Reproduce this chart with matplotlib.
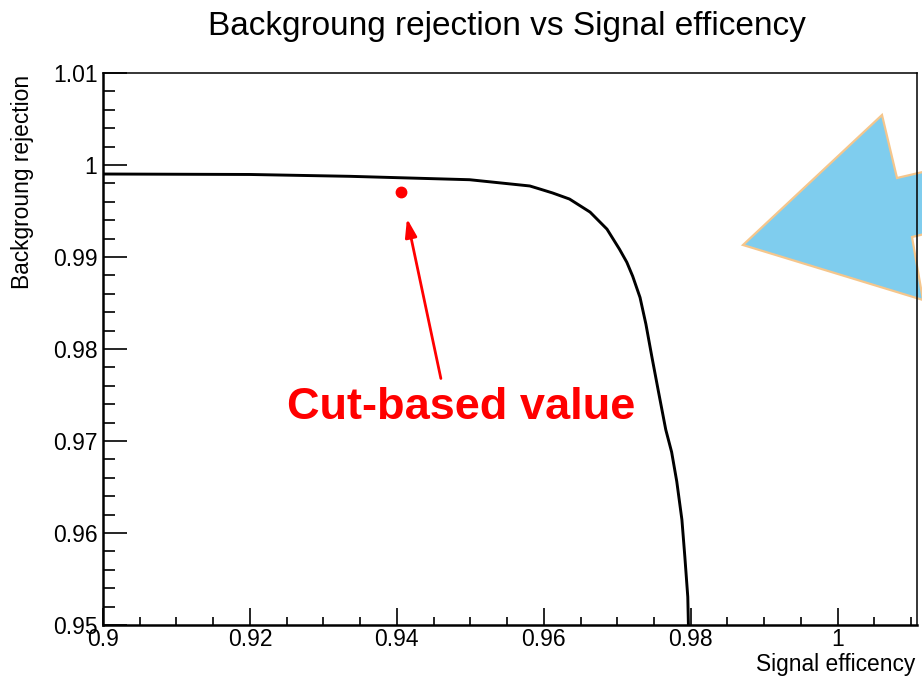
import numpy as np
import matplotlib
matplotlib.use('Agg')
import matplotlib.pyplot as plt
from matplotlib.patches import Polygon
from matplotlib.ticker import FixedLocator, MultipleLocator, FormatStrFormatter

plt.rcParams['font.family'] = ['Liberation Sans', 'DejaVu Sans']

# ROC curve
sig_eff = [0.9000, 0.9200, 0.9336, 0.9499, 0.9581, 0.9595, 0.9612, 0.9635,
           0.9663, 0.9686, 0.9703, 0.9713, 0.9721, 0.9731, 0.9739, 0.9747,
           0.9756, 0.9766, 0.9774, 0.9781, 0.9788, 0.9792, 0.9796, 0.9797]
bkg_rej = [0.99902, 0.99897, 0.99877, 0.99840, 0.99772, 0.99738, 0.99696, 0.99630,
           0.99488, 0.99303, 0.99085, 0.98943, 0.98791, 0.98560, 0.98270, 0.97920,
           0.97540, 0.97124, 0.96880, 0.96560, 0.96144, 0.95741, 0.95305, 0.94950]
cut_eff, cut_rej = 0.9405, 0.99709
x_ticks = [0.9, 0.92, 0.94, 0.96, 0.98, 1.0]
y_ticks = [0.95, 0.96, 0.97, 0.98, 0.99, 1.0, 1.01]

W, H = 922, 677
fig = plt.figure(figsize=(W/100, H/100), dpi=100)
ax = fig.add_axes([103/W, 1 - 625/H, (917-103)/W, (625-73)/H])

ax.plot(sig_eff, bkg_rej, color='black', lw=2.1, zorder=3)
ax.plot(cut_eff, cut_rej, 'o', color='#ff0000', ms=7.5, zorder=4)
ax.annotate('', xy=(0.9413, 0.99448), xytext=(0.94607, 0.9765),
            arrowprops=dict(arrowstyle='-|>,head_width=0.35,head_length=1.1',
                            color='#ff0000', lw=2), zorder=4)
ax.text(0.94879, 0.9736, 'Cut-based value', color='#ff0000', fontsize=32.5,
        fontweight='bold', ha='center', va='center', zorder=4)

ax.set_xlim(0.9, 1.0108)
ax.set_ylim(0.95, 1.01)
ax.xaxis.set_major_locator(FixedLocator(x_ticks))
ax.xaxis.set_minor_locator(MultipleLocator(0.005))
ax.yaxis.set_major_locator(FixedLocator(y_ticks))
ax.yaxis.set_minor_locator(MultipleLocator(0.002))
ax.xaxis.set_major_formatter(FormatStrFormatter('%g'))
ax.yaxis.set_major_formatter(FormatStrFormatter('%g'))
ax.tick_params(axis='both', which='both', direction='in', top=False, right=False,
               labelsize=16.5, width=1.2)
ax.tick_params(axis='x', which='major', length=12.5, pad=2)
ax.tick_params(axis='x', which='minor', length=6)
ax.tick_params(axis='y', which='major', length=17.5, pad=4)
ax.tick_params(axis='y', which='minor', length=8.7)
for s in ['left', 'bottom']:
    ax.spines[s].set_linewidth(1.8)
for s in ['top', 'right']:
    ax.spines[s].set_linewidth(1.1)

# big blue arrow at the right edge (figure pixel coords, y from top)
arrow_px = [(743, 245), (882, 115), (897, 178), (1000, 154),
            (1000, 216), (912, 237), (923, 300)]
poly = Polygon([(x/W, 1 - y/H) for x, y in arrow_px], closed=True,
               facecolor='#7fcdee', edgecolor='#f5c68c', lw=1.6,
               transform=fig.transFigure, clip_on=False, zorder=1)
ax.add_patch(poly)

fig.text(507/W, 1 - 27/H, 'Backgroung rejection vs Signal efficency',
         fontsize=24, ha='center', va='center')
fig.text(915/W, 1 - 665/H, 'Signal efficency', fontsize=16.4, ha='right', va='center')
fig.text(22/W, 1 - 75/H, 'Backgroung rejection', fontsize=16.4, rotation=90,
         ha='center', va='top')

fig.savefig('out.png', dpi=100)
